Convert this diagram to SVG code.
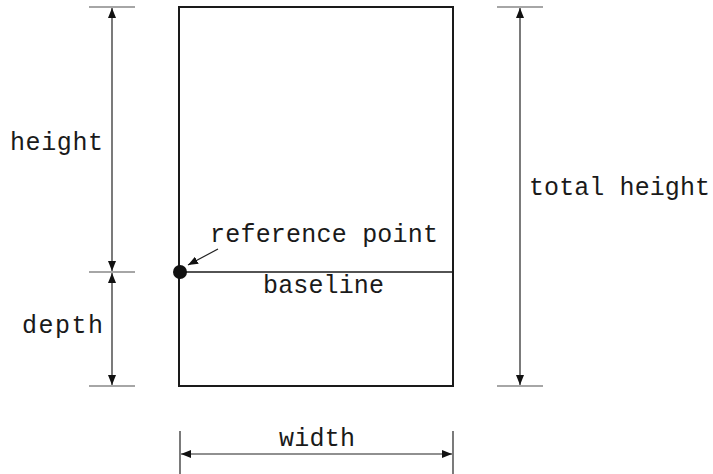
<svg xmlns="http://www.w3.org/2000/svg" width="713" height="474" viewBox="0 0 713 474">
<style>
.lbl{font-family:"Liberation Mono","DejaVu Sans Mono",monospace;font-size:25px;fill:#1a1a1a}
.dim{stroke:#222;stroke-width:1.2;fill:none}
.tick{stroke:#888;stroke-width:1.5}
.vtick{stroke:#222;stroke-width:1.2}
</style>
<defs>
<marker id="ah" viewBox="0 0 10 8" refX="10" refY="4" markerWidth="10" markerHeight="8" markerUnits="userSpaceOnUse" orient="auto-start-reverse">
<path d="M0,0 L10,4 L0,8 Z" fill="#111"/>
</marker>
</defs>
<rect width="713" height="474" fill="#fff"/>
<g id="box">
<rect x="179" y="7" width="274" height="379" fill="none" stroke="#1a1a1a" stroke-width="2"/>
<line x1="179" y1="272" x2="453" y2="272" stroke="#1a1a1a" stroke-width="1.6"/>
<circle cx="180" cy="272" r="7" fill="#111"/>
</g>
<g id="ticks">
<line class="tick" x1="89" y1="7" x2="135" y2="7"/>
<line class="tick" x1="89" y1="272" x2="135" y2="272"/>
<line class="tick" x1="89" y1="386" x2="135" y2="386"/>
<line class="tick" x1="497" y1="7" x2="543" y2="7"/>
<line class="tick" x1="497" y1="386" x2="543" y2="386"/>
<line class="vtick" x1="180" y1="431" x2="180" y2="474"/>
<line class="vtick" x1="453" y1="431" x2="453" y2="474"/>
</g>
<g id="connectors">
<line class="dim" x1="112" y1="8" x2="112" y2="271" marker-start="url(#ah)" marker-end="url(#ah)"/>
<line class="dim" x1="112" y1="273" x2="112" y2="385" marker-start="url(#ah)" marker-end="url(#ah)"/>
<line class="dim" x1="520" y1="8" x2="520" y2="385" marker-start="url(#ah)" marker-end="url(#ah)"/>
<line class="dim" x1="181" y1="454" x2="452" y2="454" marker-start="url(#ah)" marker-end="url(#ah)"/>
<line class="dim" x1="218" y1="249" x2="188" y2="265" marker-end="url(#ah)"/>
</g>
<g id="labels">
<text class="lbl" x="10" y="150" textLength="93">height</text>
<text class="lbl" x="22" y="333" textLength="81">depth</text>
<text class="lbl" x="529" y="195" textLength="181">total height</text>
<text class="lbl" x="210" y="242" textLength="228">reference point</text>
<text class="lbl" x="263" y="293" textLength="121">baseline</text>
<text class="lbl" x="279" y="446" textLength="76">width</text>
</g>
</svg>
